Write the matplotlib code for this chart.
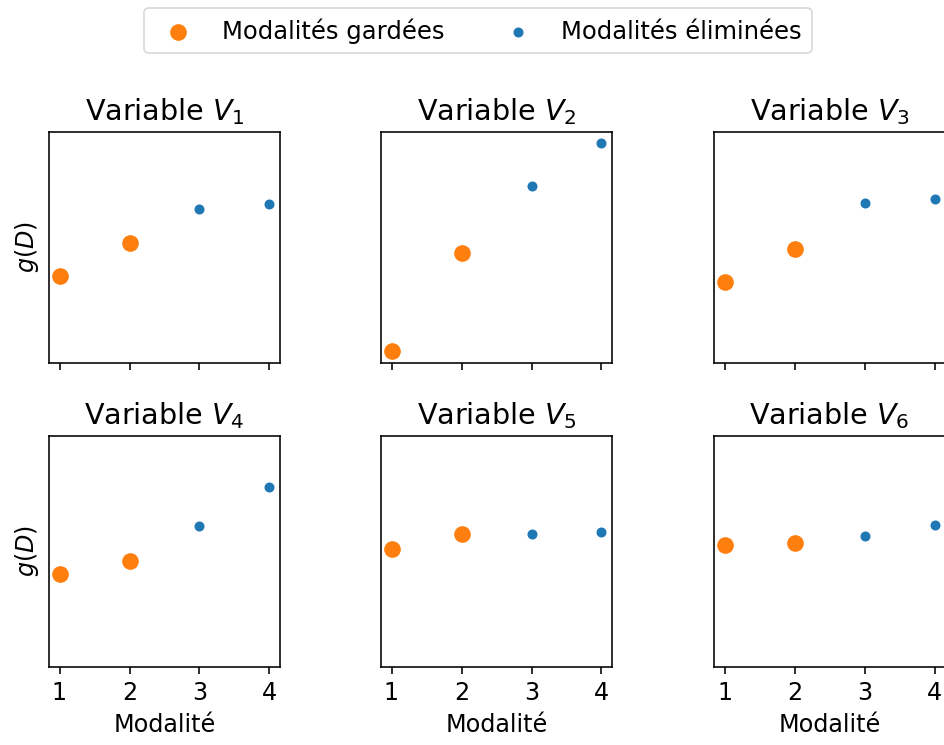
import matplotlib
matplotlib.use("Agg")
import matplotlib.pyplot as plt
import numpy as np

modalites = [1, 2, 3, 4]
titles = ["Variable $V_1$", "Variable $V_2$", "Variable $V_3$",
          "Variable $V_4$", "Variable $V_5$", "Variable $V_6$"]
v1 = [0.360, 0.520, 0.682, 0.707]
v2 = [0.000, 0.472, 0.794, 1.000]
v3 = [0.331, 0.491, 0.713, 0.734]
v4 = [0.391, 0.453, 0.619, 0.807]
v5 = [0.512, 0.581, 0.585, 0.591]
v6 = [0.532, 0.539, 0.572, 0.624]
series = [v1, v2, v3, v4, v5, v6]
n_kept = 2

S = 1.433  # scale factor of the original rendering
W, H = 944, 745
fig = plt.figure(figsize=(W / 100, H / 100), dpi=100)
ax_w, ax_h = 231, 231
lefts = [49, 381, 714]
tops = [131.7, 435.7]
orange = "#ff7f0e"
blue = "#1f77b4"

axes = []
for i, vals in enumerate(series):
    r, c = divmod(i, 3)
    rect = [lefts[c] / W, 1 - (tops[r] + ax_h) / H, ax_w / W, ax_h / H]
    ax = fig.add_axes(rect, sharex=axes[0] if axes else None,
                      sharey=axes[0] if axes else None)
    axes.append(ax)
    h1 = ax.scatter(modalites[:n_kept], vals[:n_kept], s=144, color=orange,
                    label="Modalités gardées", zorder=3, linewidths=0)
    h2 = ax.scatter(modalites[n_kept:], vals[n_kept:], s=52, color=blue,
                    label="Modalités éliminées", zorder=3, linewidths=0)
    ax.set_title(titles[i], fontsize=14.4 * S, pad=6 * S)
    ax.set_yticks([])
    ax.set_xticks(modalites)
    ax.tick_params(axis="x", labelsize=12 * S, length=3.5 * S,
                   width=0.8 * S, pad=3.5 * S)
    for sp in ax.spines.values():
        sp.set_linewidth(0.8 * S)
    if r == 0:
        ax.tick_params(axis="x", labelbottom=False)
    else:
        ax.set_xlabel("Modalité", fontsize=12 * S, labelpad=4 * S)
    if c == 0:
        ax.set_ylabel("$g(D)$", fontsize=12 * S, labelpad=6)

axes[0].set_xlim(0.85, 4.15)
axes[0].set_ylim(-0.055, 1.055)

leg = fig.legend(handles=[h1, h2], loc="upper center",
                 bbox_to_anchor=(478 / W, 1 - 8.3 / H), ncol=2,
                 fontsize=17.5, borderaxespad=0)
leg.get_frame().set_linewidth(0.8 * S)

fig.savefig("out.png", dpi=100)
